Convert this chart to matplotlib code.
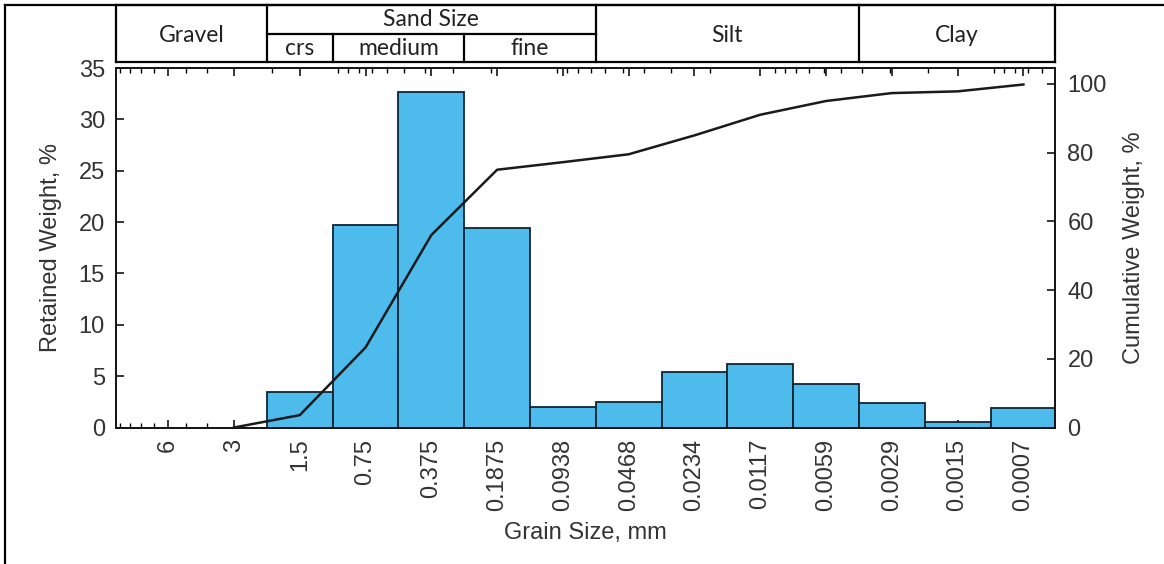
import numpy as np
import matplotlib
matplotlib.use("Agg")
import matplotlib.pyplot as plt
from matplotlib.ticker import FixedLocator, FixedFormatter, LogLocator, NullFormatter, MultipleLocator
from matplotlib.transforms import blended_transform_factory
from matplotlib.lines import Line2D

# ---------------- data ----------------
size_labels = ["6", "3", "1.5", "0.75", "0.375", "0.1875", "0.0938", "0.0468",
               "0.0234", "0.0117", "0.0059", "0.0029", "0.0015", "0.0007"]
grain_size = [6, 3, 1.5, 0.75, 0.375, 0.1875, 0.09375, 0.046875, 0.0234375,
              0.01171875, 0.005859375, 0.0029296875, 0.00146484375, 0.000732421875]
retained = [0, 0, 3.5, 19.7, 32.7, 19.4, 1.95, 2.5, 5.45, 6.2, 4.25, 2.35, 0.5, 1.9]
cumulative = [np.nan, 0, 3.6, 23.3, 56.0, 75.0, 77.2, 79.5, 85.0, 91.0, 95.0, 97.3, 97.8, 99.8]

top_classes = ["Gravel", "Sand Size", "Silt", "Clay"]
sand_classes = ["crs", "medium", "fine"]

# ---------------- styling ----------------
plt.rcParams["font.family"] = ["Liberation Sans", "DejaVu Sans"]
TXT = "#333333"
BAR = "#4DBBEC"
EDGE = "#0d2535"
FS = 17

fig = plt.figure(figsize=(11.64, 5.64), dpi=100)
L, R, T, B = 116, 1055, 68, 427.5
W, H = 1164, 564
ax = fig.add_axes([L / W, 1 - B / H, (R - L) / W, (B - T) / H])

gs = np.array(grain_size, dtype=float)
ret = np.array(retained, dtype=float)
cum = np.array(cumulative, dtype=float)
half = np.sqrt(2.0)

mask = ret > 0
ax.bar(gs[mask] / half, ret[mask], width=gs[mask] * half - gs[mask] / half,
       align="edge", color=BAR, edgecolor=EDGE, linewidth=1.3, zorder=2)

ax.set_xscale("log")
ax.set_xlim(10.4, 0.000525)
ax.set_ylim(0, 35)
ax.xaxis.set_major_locator(FixedLocator(gs))
ax.xaxis.set_major_formatter(FixedFormatter(size_labels))
ax.xaxis.set_minor_locator(LogLocator(base=10, subs=np.arange(1, 10), numticks=50))
ax.xaxis.set_minor_formatter(NullFormatter())
ax.yaxis.set_major_locator(MultipleLocator(5))
ax.tick_params(axis="x", which="major", direction="in", length=6, width=1.1,
               top=True, bottom=True, labelsize=FS, labelcolor=TXT, pad=8,
               labelrotation=90)
ax.tick_params(axis="x", which="minor", direction="in", length=3.5, width=1.0,
               top=True, bottom=True)
ax.tick_params(axis="y", which="major", direction="in", length=6, width=1.1,
               labelsize=FS, labelcolor=TXT, pad=8)
for s in ax.spines.values():
    s.set_linewidth(1.2)
    s.set_color("#111111")

ax.set_xlabel("Grain Size, mm", fontsize=FS, color=TXT)
ax.xaxis.label.set_va("center")
ax.xaxis.set_label_coords(0.5, (B - 533) / (B - T))
ax.set_ylabel("Retained Weight, %", fontsize=FS, color=TXT)
ax.yaxis.label.set_va("center")
ax.yaxis.set_label_coords((51 - L) / (R - L), 0.5)

ax2 = ax.twinx()
ax2.plot(gs, cum, color="#1a1a1a", linewidth=1.8, zorder=3)
ax2.set_ylim(0, 104.6)
ax2.yaxis.set_major_locator(MultipleLocator(20))
ax2.tick_params(axis="y", direction="in", length=6, width=1.1,
                labelsize=FS, labelcolor=TXT, pad=9)
ax2.set_ylabel("Cumulative Weight, %", fontsize=FS, color=TXT)
ax2.yaxis.label.set_va("center")
ax2.yaxis.set_label_coords((1134 - L) / (R - L), 0.5)
for s in ax2.spines.values():
    s.set_linewidth(1.2)
    s.set_color("#111111")

# ---------------- header table ----------------
tr = blended_transform_factory(ax.transData, ax.transAxes)
x_left, x_right = ax.get_xlim()
b_gs = grain_size[1] / half          # gravel / sand
b_cm = grain_size[2] / half          # crs / medium
b_mf = grain_size[4] / half          # medium / fine
b_ss = grain_size[6] / half          # sand / silt
b_sc = grain_size[10] / half         # silt / clay
y_top = (B - 5) / (B - T)
y_mid = (B - 34) / (B - T)
y_bot = (B - 62) / (B - T)
lw_t = 1.6
kw = dict(transform=tr, color="black", linewidth=lw_t, clip_on=False,
          solid_capstyle="projecting")
ax.plot([x_left, x_right], [y_top, y_top], **kw)
ax.plot([x_left, x_right], [y_bot, y_bot], **kw)
ax.plot([b_gs, b_ss], [y_mid, y_mid], **kw)
for xb in (x_left, b_gs, b_ss, b_sc, x_right):
    ax.plot([xb, xb], [y_bot, y_top], **kw)
for xb in (b_cm, b_mf):
    ax.plot([xb, xb], [y_bot, y_mid], **kw)


def gmid(a, b):
    return np.sqrt(a * b)


tfont = dict(family=["Lato", "DejaVu Sans"], fontsize=16.5, color="#222222",
             ha="center", va="center", transform=tr, clip_on=False)
y_full = (B - 35) / (B - T)
y_up = (B - 20) / (B - T)
y_low = (B - 48.5) / (B - T)
ax.text(gmid(x_left, b_gs), y_full, top_classes[0], **tfont)
ax.text(gmid(b_gs, b_ss), y_up, top_classes[1], **tfont)
ax.text(gmid(b_ss, b_sc), y_full, top_classes[2], **tfont)
ax.text(gmid(b_sc, x_right), y_full, top_classes[3], **tfont)
ax.text(gmid(b_gs, b_cm), y_low, sand_classes[0], **tfont)
ax.text(gmid(b_cm, b_mf), y_low, sand_classes[1], **tfont)
ax.text(gmid(b_mf, b_ss), y_low, sand_classes[2], **tfont)

# figure border (left and top)
fx, fy = 5 / W, 1 - 5 / H
fig.add_artist(Line2D([fx, fx], [0, fy], color="black", linewidth=1.6))
fig.add_artist(Line2D([fx, 1], [fy, fy], color="black", linewidth=1.6))

fig.savefig("out.png", dpi=100, facecolor="white")
